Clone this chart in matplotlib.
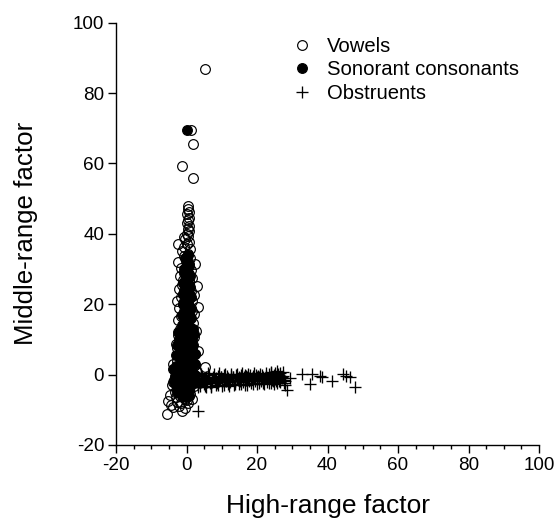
import matplotlib
matplotlib.use('Agg')
import matplotlib.pyplot as plt

plt.rcParams['font.family'] = ['Liberation Sans', 'DejaVu Sans']
plt.rcParams['axes.unicode_minus'] = False

# Vowels (open circles)
vowel_x = [5.2, 1.2, 1.9, -1.4, 1.8, 0.5, 0.3, 0.6, 0.2, 0.7,
           0.4, 0.1, 0.6, 0.3, 0.8, 0.0, 0.5, -0.3, 0.7, -2.3,
           0.2, -0.6, 0.9, -1.2, 0.4, -0.8, 1.1, -2.3, 2.4, -0.2,
           0.6, -1.5, 1.4, -0.5, 0.3, -1.9, 1.7, -0.9, 0.8, 2.9,
           -1.4, 0.1, -2.1, 1.3, -0.7, 2.0, -1.7, 0.5, -2.8, 1.6,
           -1.0, 3.3, 0.2, -2.2, 1.1, -0.4, 2.2, -1.6, 0.7, -2.5,
           1.8, -0.8, 0.4, -1.9, 2.7, 1.2, -0.3, -2.4, 2.0, -1.2,
           0.8, -3.0, 1.5, -2.8, -0.5, 3.3, 0.3, -1.9, 2.3, -0.9,
           1.0, -3.7, -2.6, 5.2, 1.9, -1.4, 0.4, -3.2, 2.6, -0.6,
           -2.2, 1.4, -3.5, 0.2, -1.6, 2.1, -2.8, -0.8, 1.0, -3.4,
           -1.9, -5.2, -0.3, -2.7, -3.7, -1.4, -5.6, -4.4, -2.2, 0.4,
           0.0, 0.9, -0.5, 0.5, -1.0, 1.2, -1.8, 0.7, -1.2, -0.2,
           -0.1, 0.6, -0.9, 1.6, -2.0, 0.3, -1.3, 2.4, -4.0, -3.0,
           -4.6, -3.9, -2.5, -1.5, 1.7, -0.4, 0.9, -1.1, 0.1, -0.7]
vowel_y = [86.8, 69.4, 65.4, 59.3, 56.0, 47.8, 47.0, 46.2, 45.5, 44.6,
           43.8, 43.0, 42.3, 41.5, 40.8, 40.0, 39.3, 38.5, 37.8, 37.1,
           37.0, 36.2, 35.6, 35.0, 34.4, 33.7, 33.0, 31.9, 31.5, 32.3,
           31.0, 30.4, 29.8, 29.2, 28.6, 28.0, 27.4, 26.8, 26.2, 25.2,
           25.6, 25.0, 24.4, 23.8, 23.2, 22.6, 22.0, 21.4, 21.0, 20.8,
           20.2, 19.1, 19.6, 19.0, 18.4, 17.8, 17.2, 16.6, 16.0, 15.4,
           14.8, 14.2, 13.6, 13.0, 12.5, 12.4, 11.8, 11.2, 10.6, 10.0,
           9.4, 8.8, 8.2, 7.7, 7.6, 6.8, 7.0, 6.4, 5.8, 5.2,
           4.6, 3.0, 4.0, 2.1, 3.4, 2.8, 2.2, 1.6, 1.0, 0.4,
           -0.2, -0.8, -1.4, -2.0, -2.6, -3.2, -3.8, -4.4, -5.5, -5.0,
           -6.2, -7.4, -6.8, -7.8, -9.3, -10.2, -11.2, -8.6, -9.0, -8.2,
           15.0, 13.0, 9.0, 5.5, 3.5, 1.5, -1.0, -3.5, -5.8, 0.5,
           30.0, 27.0, 23.0, 18.0, 12.0, 11.0, 4.5, 2.6, -3.0, -6.5,
           -5.8, -2.2, 0.9, -8.0, -6.8, -9.5, -2.5, 8.3, -7.2, 39.0]

# Sonorant consonants (filled circles)
sonorant_x = [0.05,
              0.3, 0.1, 0.4, -0.2, 0.5, 0.0, 0.3, -0.3, 0.2, 0.4,
              -0.1, 0.3, 0.0, 0.2, -0.2, 0.1, 0.3, -0.1, 0.0, 0.2,
              -0.3, 0.1, -0.2, 0.0, -0.4, -0.1, -0.3,
              -0.8, -0.9, -1.0, -1.1, -1.3, -1.4, -1.5, -1.6, -1.8, -1.9,
              -2.0, -1.8, -1.4,
              1.0, 1.1, 1.2, 1.2, 1.3, 1.4, 1.5, 1.6, 1.6, 1.5,
              1.3, 0.8,
              -2.4, -2.7, -2.9, -3.1, -3.3, -3.0, -2.6,
              2.3, 2.5, 2.4, 2.0,
              -0.5, 0.7, -0.6, 0.8, -0.5, 0.7, -0.7, 0.9, -0.6, 0.8,
              -0.8, 1.0, -0.7, 0.9, -1.0, 1.1, -0.9, 1.0, -1.2, 1.2,
              -1.1, 0.9, -2.2, -2.4, -2.3, -2.5, -2.0, 1.9, 2.0, 1.8,
              -3.6, -3.8, -0.2, 0.6]
sonorant_y = [69.4,
              34.0, 32.5, 31.0, 29.5, 28.0, 26.5, 25.0, 23.5, 22.0, 20.5,
              19.0, 17.5, 16.0, 14.5, 13.0, 11.5, 10.0, 8.5, 7.0, 5.5,
              4.0, 2.5, 1.0, -0.5, -2.0, -3.5, -5.0,
              29.0, 26.0, 23.0, 20.0, 17.0, 14.0, 11.0, 8.0, 5.0, 2.0,
              -1.0, -4.0, -6.0,
              28.0, 25.0, 22.0, 19.0, 16.0, 13.0, 10.0, 7.0, 4.0, 1.0,
              -2.0, -4.5,
              12.0, 8.5, 5.5, 2.5, -0.5, -3.0, -5.0,
              6.0, 3.0, 0.0, -2.5,
              33.0, 31.5, 30.0, 28.5, 27.0, 25.5, 24.0, 22.5, 21.0, 19.5,
              18.0, 16.5, 15.0, 13.5, 12.0, 10.5, 9.0, 7.5, 6.0, 4.5,
              3.0, 1.5, 0.0, -1.5, -3.0, -4.5, 10.0, 8.5, 11.5, 13.0,
              -2.0, 1.5, -6.5, -6.0]

# Obstruents (plus signs)
obstruent_x = [1.6, 2.1, 2.4, 2.9, 3.2, 3.6, 4.0, 4.3, 4.7, 5.0,
               5.4, 5.8, 6.1, 6.5, 6.8, 7.3, 7.6, 8.0, 8.3, 8.7,
               9.0, 9.4, 9.8, 10.1, 10.5, 10.8, 11.2, 11.6, 11.9, 12.3,
               12.6, 13.0, 13.3, 13.7, 14.1, 14.4, 14.8, 15.1, 15.5, 15.9,
               16.2, 16.6, 17.0, 17.3, 17.7, 18.1, 18.4, 18.8, 19.2, 19.6,
               19.9, 20.3, 20.7, 21.1, 21.4, 21.8, 22.2, 22.6, 23.0, 23.4,
               23.7, 24.0, 24.4, 24.7, 25.0, 25.3, 25.7, 26.0, 26.4, 26.8,
               27.1, 27.5, 27.9, 26.6, 25.5, 24.2,
               1.8, 2.6, 3.4, 4.2, 5.2, 6.0, 6.9, 7.8, 8.5, 9.2,
               10.0, 10.9, 11.7, 12.5, 13.4, 14.2, 15.0, 15.8, 16.7, 17.5,
               18.3, 19.1, 20.0, 20.9, 21.7, 22.5, 23.3, 24.1, 24.9, 25.8,
               26.5, 27.3, 28.0,
               2.2, 3.9, 5.6, 7.0, 8.9, 10.6, 12.0, 13.8, 15.4, 17.2,
               18.9, 20.5, 22.0, 23.9, 25.6, 27.6,
               1.9, 2.7, 3.5, 4.5, 5.3, 6.3, 7.1, 8.1, 9.1, 9.9,
               10.7, 11.4, 12.2, 13.1, 13.9, 14.6, 15.3, 16.1, 16.9, 17.8,
               18.6, 19.4, 20.1, 21.0, 21.9, 22.8, 23.6, 24.5, 25.2, 26.2,
               27.0, 27.8,
               3.3, 28.6, 29.4, 32.7, 35.5, 35.0, 38.4, 41.2, 44.5, 46.4,
               47.8, 38.0, 45.3]
obstruent_y = [-1.2, -2.4, -0.5, -1.8, -3.0, -0.9, -2.2, -0.3, -1.6, -2.8,
               -0.8, -2.0, -1.1, -0.2, -2.5, -1.4, -0.6, -1.9, -0.9, -2.3,
               -0.4, -1.5, -0.8, -2.1, -0.2, -1.2, -1.8, -0.5, -1.0, -2.2,
               -0.3, -1.4, -0.7, -1.9, -0.1, -1.1, -0.6, -1.7, -0.2, -1.3,
               -0.8, -0.1, -1.5, -0.6, -1.0, -0.2, -1.6, -0.5, -0.9, -0.1,
               -1.2, -0.4, -0.8, -1.4, -0.2, -0.7, -1.1, -0.3, -0.9, 0.3,
               -0.6, 0.5, -1.3, -0.2, 0.4, -0.9, -0.4, 0.2, -1.5, -0.6,
               -1.0, -0.3, -1.8, 0.6, -1.8, -1.6,
               -3.3, 0.4, -3.6, 0.2, -3.1, 0.5, -3.4, 0.3, -2.9, 0.4,
               -3.2, 0.1, -2.8, 0.3, -3.0, 0.2, -2.6, 0.4, -2.9, 0.1,
               -2.5, 0.5, -2.7, 0.2, -2.4, 0.6, -2.3, 0.8, -2.6, 1.0,
               -2.2, 0.7, -2.9,
               -3.4, -3.2, -3.5, -3.1, -3.0, -2.9, -3.1, -2.8, -2.7, -2.9,
               -2.6, -2.5, -2.7, -2.4, -2.5, -2.3,
               -1.6, -0.9, -2.0, -1.3, -1.9, -1.0, -2.1, -1.2, -1.7, -0.6,
               -1.9, -1.3, -1.6, -0.7, -1.8, -1.5, -1.0, -2.0, -0.4, -1.8,
               -1.1, -1.9, -0.6, -1.7, -1.3, -2.0, -1.0, -1.8, -1.2, -1.9,
               -0.8, -1.4,
               -10.2, -4.5, -1.1, 0.2, 0.2, -2.6, -0.8, -1.9, 0.2, -0.8,
               -3.6, -0.5, -0.3]

fig = plt.figure(figsize=(5.58, 5.18), dpi=100)
ax = fig.add_axes([116 / 558, 1 - 445 / 518, 423 / 558, 422.3 / 518])

ax.plot(vowel_x, vowel_y, 'o', mfc='none', mec='black', ms=7, mew=0.85,
        label='Vowels')
ax.plot(sonorant_x, sonorant_y, 'o', mfc='black', mec='black', ms=7, mew=0.85,
        label='Sonorant consonants')
ax.plot(obstruent_x, obstruent_y, '+', color='black', ms=8, mew=0.95,
        label='Obstruents')

ax.set_xlim(-20, 100)
ax.set_ylim(-20, 100)
ax.set_xticks(range(-20, 101, 20))
ax.set_xticks(range(-20, 101, 5), minor=True)
ax.set_yticks(range(-20, 101, 20))
for side in ['top', 'right']:
    ax.spines[side].set_visible(False)
for side in ['left', 'bottom']:
    ax.spines[side].set_linewidth(1.0)
ax.tick_params(which='major', direction='out', length=5.5, width=1.0,
               labelsize=13.6, pad=3)
ax.tick_params(which='minor', direction='out', length=3, width=1.0)

ax.set_xlabel('High-range factor', fontsize=19)
ax.set_ylabel('Middle-range factor', fontsize=18.6)
ax.xaxis.set_label_coords(0.5, -0.115)
ax.yaxis.set_label_coords(-0.184, 0.5)

ax.legend(loc='upper left', bbox_to_anchor=(292 / 558, 1 - 37 / 518),
          bbox_transform=fig.transFigure, frameon=False, fontsize=14.6,
          borderaxespad=0, borderpad=0, handlelength=1.0,
          handletextpad=0.72, labelspacing=0.22)

fig.savefig('out.png', dpi=100)
